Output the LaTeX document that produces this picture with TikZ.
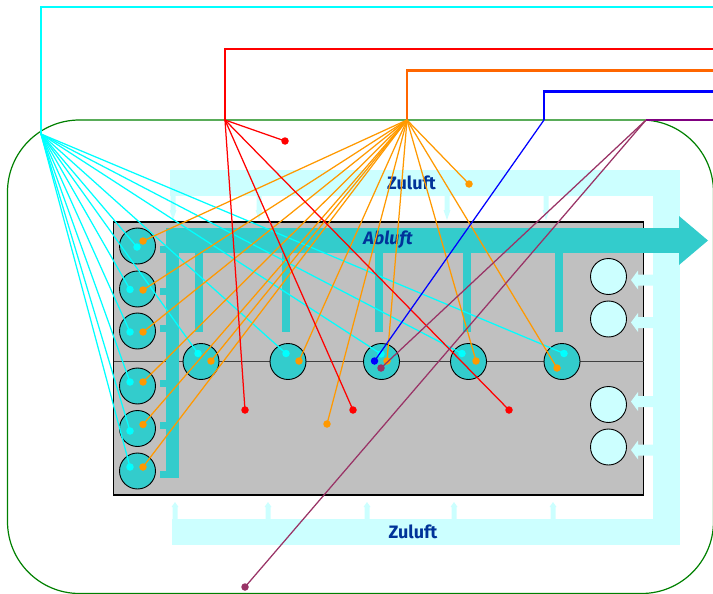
\documentclass[tikz,border=0pt]{standalone}
\usepackage{xcolor}
\usepackage{fontspec}
\setmainfont{Fira Sans}
\usetikzlibrary{arrows.meta}
\definecolor{supply}{HTML}{CCFFFF}
\definecolor{exhaust}{HTML}{33CCCC}
\definecolor{hall}{HTML}{C0C0C0}
\definecolor{mauve}{HTML}{993366}
\definecolor{plum}{HTML}{800080}
\definecolor{darkorange}{HTML}{FF6600}
\definecolor{sensorcyan}{HTML}{00FFFF}
\definecolor{sensororange}{HTML}{FF9900}
\definecolor{wall}{HTML}{008000}
\definecolor{airtext}{HTML}{003399}
\tikzset{
  duct/.style={fill=#1, draw=none},
  tank/.style={circle, draw=black, line width=0.9pt, minimum size=36pt, inner sep=0pt, fill=exhaust},
  freshtank/.style={tank, fill=supply},
  sdot/.style={circle, fill=#1, minimum size=7.5pt, inner sep=0pt},
  hub/.style={coordinate},
  feed/.style={draw=#1, line width=2.6pt, line join=miter},
  fl/.style={draw=#1, line width=1.25pt},
  air/.style={font=\fontsize{18}{20}\selectfont\bfseries, text=airtext, inner sep=0pt}
}
\begin{document}
\begin{tikzpicture}[x=1pt, y=-1pt]
\useasboundingbox (0,0) rectangle (713,594);
% building
\draw[draw=wall, line width=1.2pt, rounded corners=72pt] (7.5,120) rectangle (713.5,593.5);
% supply air
\fill[duct=supply] (170,170) rectangle (680,196);
\fill[duct=supply] (653,170) rectangle (680,545);
\fill[duct=supply] (172,519) rectangle (680,545);
\foreach \x in {173,259,447,546} {
  \fill[duct=supply] (\x-2.5,196) -- (\x+2.5,196) -- (\x+2.5,210) -- (\x+3.5,210) -- (\x,220) -- (\x-3.5,210) -- (\x-2.5,210) -- cycle;
}
\foreach \x in {175,268,367,454,553} {
  \fill[duct=supply] (\x-2.5,519) -- (\x+2.5,519) -- (\x+2.5,507) -- (\x+3.5,507) -- (\x,502) -- (\x-3.5,507) -- (\x-2.5,507) -- cycle;
}
% hall
\draw[fill=hall, draw=black, line width=1.1pt] (113.5,222) rectangle (643.5,495);
\draw[draw=black!75, line width=1.5pt] (113.5,361.5) -- (643.5,361.5);
% exhaust air
\fill[duct=exhaust] (166,228) rectangle (680,253);
\fill[duct=exhaust] (679,216) -- (708,240.5) -- (679,265) -- cycle;
\fill[duct=exhaust] (166,228) rectangle (179,478);
\foreach \y in {246,288,325,380,422,471} {
  \fill[duct=exhaust] (160,\y) rectangle (166,\y+7);
}
\foreach \x in {195,282,375,463,555} {
  \fill[duct=exhaust] (\x,253) rectangle (\x+7.5,332);
}
\foreach \y in {280,322.5,401.5,450} {
  \fill[duct=supply] (653,\y-5.5) -- (653,\y+5.5) -- (638,\y+5.5) -- (638,\y+9.5) -- (631,\y) -- (638,\y-9.5) -- (638,\y-5.5) -- cycle;
}
% tanks
\node[tank] (l1) at (137.5,246) {};
\node[tank] (l2) at (137.5,289) {};
\node[tank] (l3) at (137.5,331) {};
\node[tank] (l4) at (137.5,386) {};
\node[tank] (l5) at (137.5,428.5) {};
\node[tank] (l6) at (137.5,471) {};
\node[tank] (m1) at (201,361.5) {};
\node[tank] (m2) at (288,361.5) {};
\node[tank] (m3) at (381.5,361.5) {};
\node[tank] (m4) at (468.5,361.5) {};
\node[tank] (m5) at (562,361.5) {};
\node[freshtank] (f1) at (608.5,276.5) {};
\node[freshtank] (f2) at (608.5,319) {};
\node[freshtank] (f3) at (608.5,404.5) {};
\node[freshtank] (f4) at (608.5,447) {};
\node[air] (zu1) at (411.5,183) {Zuluft};
\node[air] (zu2) at (413,532) {Zuluft};
\node[air, font=\fontsize{18}{20}\selectfont\bfseries\itshape] (ab) at (388,240) {Abluft};
% hubs
\node[hub] (hc) at (41,134) {};
\node[hub] (hr) at (225,120) {};
\node[hub] (ho) at (407,120) {};
\node[hub] (hb) at (544,120) {};
\node[hub] (hp) at (646,120) {};
% feeds
\node[hub] (cc) at (41,7) {};
\node[hub] (ce) at (714,7) {};
\node[hub] (rc) at (225,49) {};
\node[hub] (re) at (714,49) {};
\node[hub] (oc) at (407,70.5) {};
\node[hub] (oe) at (714,70.5) {};
\node[hub] (bc) at (544,91.5) {};
\node[hub] (be) at (714,91.5) {};
\node[hub] (pe) at (714,120) {};
\draw[feed=sensorcyan] (hc) -- (cc) -- (ce);
\draw[feed=red] (hr) -- (rc) -- (re);
\draw[feed=darkorange] (ho) -- (oc) -- (oe);
\draw[feed=blue] (hb) -- (bc) -- (be);
\draw[feed=plum] (hp) -- (pe);
% sensor points
\node[sdot=sensorcyan] (c1) at (137,247) {};
\node[sdot=sensorcyan] (c2) at (130,289.5) {};
\node[sdot=sensorcyan] (c3) at (130,332) {};
\node[sdot=sensorcyan] (c4) at (130,382) {};
\node[sdot=sensorcyan] (c5) at (130,431) {};
\node[sdot=sensorcyan] (c6) at (130,467) {};
\node[sdot=sensorcyan] (c7) at (198,353.5) {};
\node[sdot=sensorcyan] (c8) at (286,353.5) {};
\node[sdot=sensorcyan] (c9) at (381,354) {};
\node[sdot=sensorcyan] (c10) at (462,353.5) {};
\node[sdot=sensorcyan] (c11) at (564,353.5) {};
\node[sdot=sensororange] (o1) at (143,241) {};
\node[sdot=sensororange] (o2) at (143,290) {};
\node[sdot=sensororange] (o3) at (143,332) {};
\node[sdot=sensororange] (o4) at (143,382) {};
\node[sdot=sensororange] (o5) at (143,424.5) {};
\node[sdot=sensororange] (o6) at (143,467) {};
\node[sdot=sensororange] (o7) at (211,361) {};
\node[sdot=sensororange] (o8) at (299,361) {};
\node[sdot=sensororange] (o9) at (387,361) {};
\node[sdot=sensororange] (o10) at (476,361) {};
\node[sdot=sensororange] (o11) at (557,368) {};
\node[sdot=sensororange] (o12) at (469,184) {};
\node[sdot=sensororange] (o13) at (327,424) {};
\node[sdot=red] (r5) at (285,141) {};
\node[sdot=red] (r6) at (245,410) {};
\node[sdot=red] (r7) at (353,410) {};
\node[sdot=red] (r8) at (509,410) {};
\node[sdot=blue] (b6) at (374.5,361) {};
\node[sdot=mauve] (p1) at (381,368) {};
\node[sdot=mauve] (p2) at (245,587) {};
% cyan lines
\draw[fl=sensorcyan] (hc) -- (c1.center);
\draw[fl=sensorcyan] (hc) -- (c2.center);
\draw[fl=sensorcyan] (hc) -- (c3.center);
\draw[fl=sensorcyan] (hc) -- (c4.center);
\draw[fl=sensorcyan] (hc) -- (c5.center);
\draw[fl=sensorcyan] (hc) -- (c6.center);
\draw[fl=sensorcyan] (hc) -- (c7.center);
\draw[fl=sensorcyan] (hc) -- (c8.center);
\draw[fl=sensorcyan] (hc) -- (c9.center);
\draw[fl=sensorcyan] (hc) -- (c10.center);
\draw[fl=sensorcyan] (hc) -- (c11.center);
% orange lines
\draw[fl=sensororange] (ho) -- (o1.center);
\draw[fl=sensororange] (ho) -- (o2.center);
\draw[fl=sensororange] (ho) -- (o3.center);
\draw[fl=sensororange] (ho) -- (o4.center);
\draw[fl=sensororange] (ho) -- (o5.center);
\draw[fl=sensororange] (ho) -- (o6.center);
\draw[fl=sensororange] (ho) -- (o7.center);
\draw[fl=sensororange] (ho) -- (o8.center);
\draw[fl=sensororange] (ho) -- (o9.center);
\draw[fl=sensororange] (ho) -- (o10.center);
\draw[fl=sensororange] (ho) -- (o11.center);
\draw[fl=sensororange] (ho) -- (o12.center);
\draw[fl=sensororange] (ho) -- (o13.center);
% red, blue and mauve lines
\draw[fl=red] (hr) -- (r5.center);
\draw[fl=red] (hr) -- (r6.center);
\draw[fl=red] (hr) -- (r7.center);
\draw[fl=red] (hr) -- (r8.center);
\draw[fl=blue] (hb) -- (b6.center);
\draw[fl=mauve] (hp) -- (p1.center);
\draw[fl=mauve] (hp) -- (p2.center);
\end{tikzpicture}
\end{document}
